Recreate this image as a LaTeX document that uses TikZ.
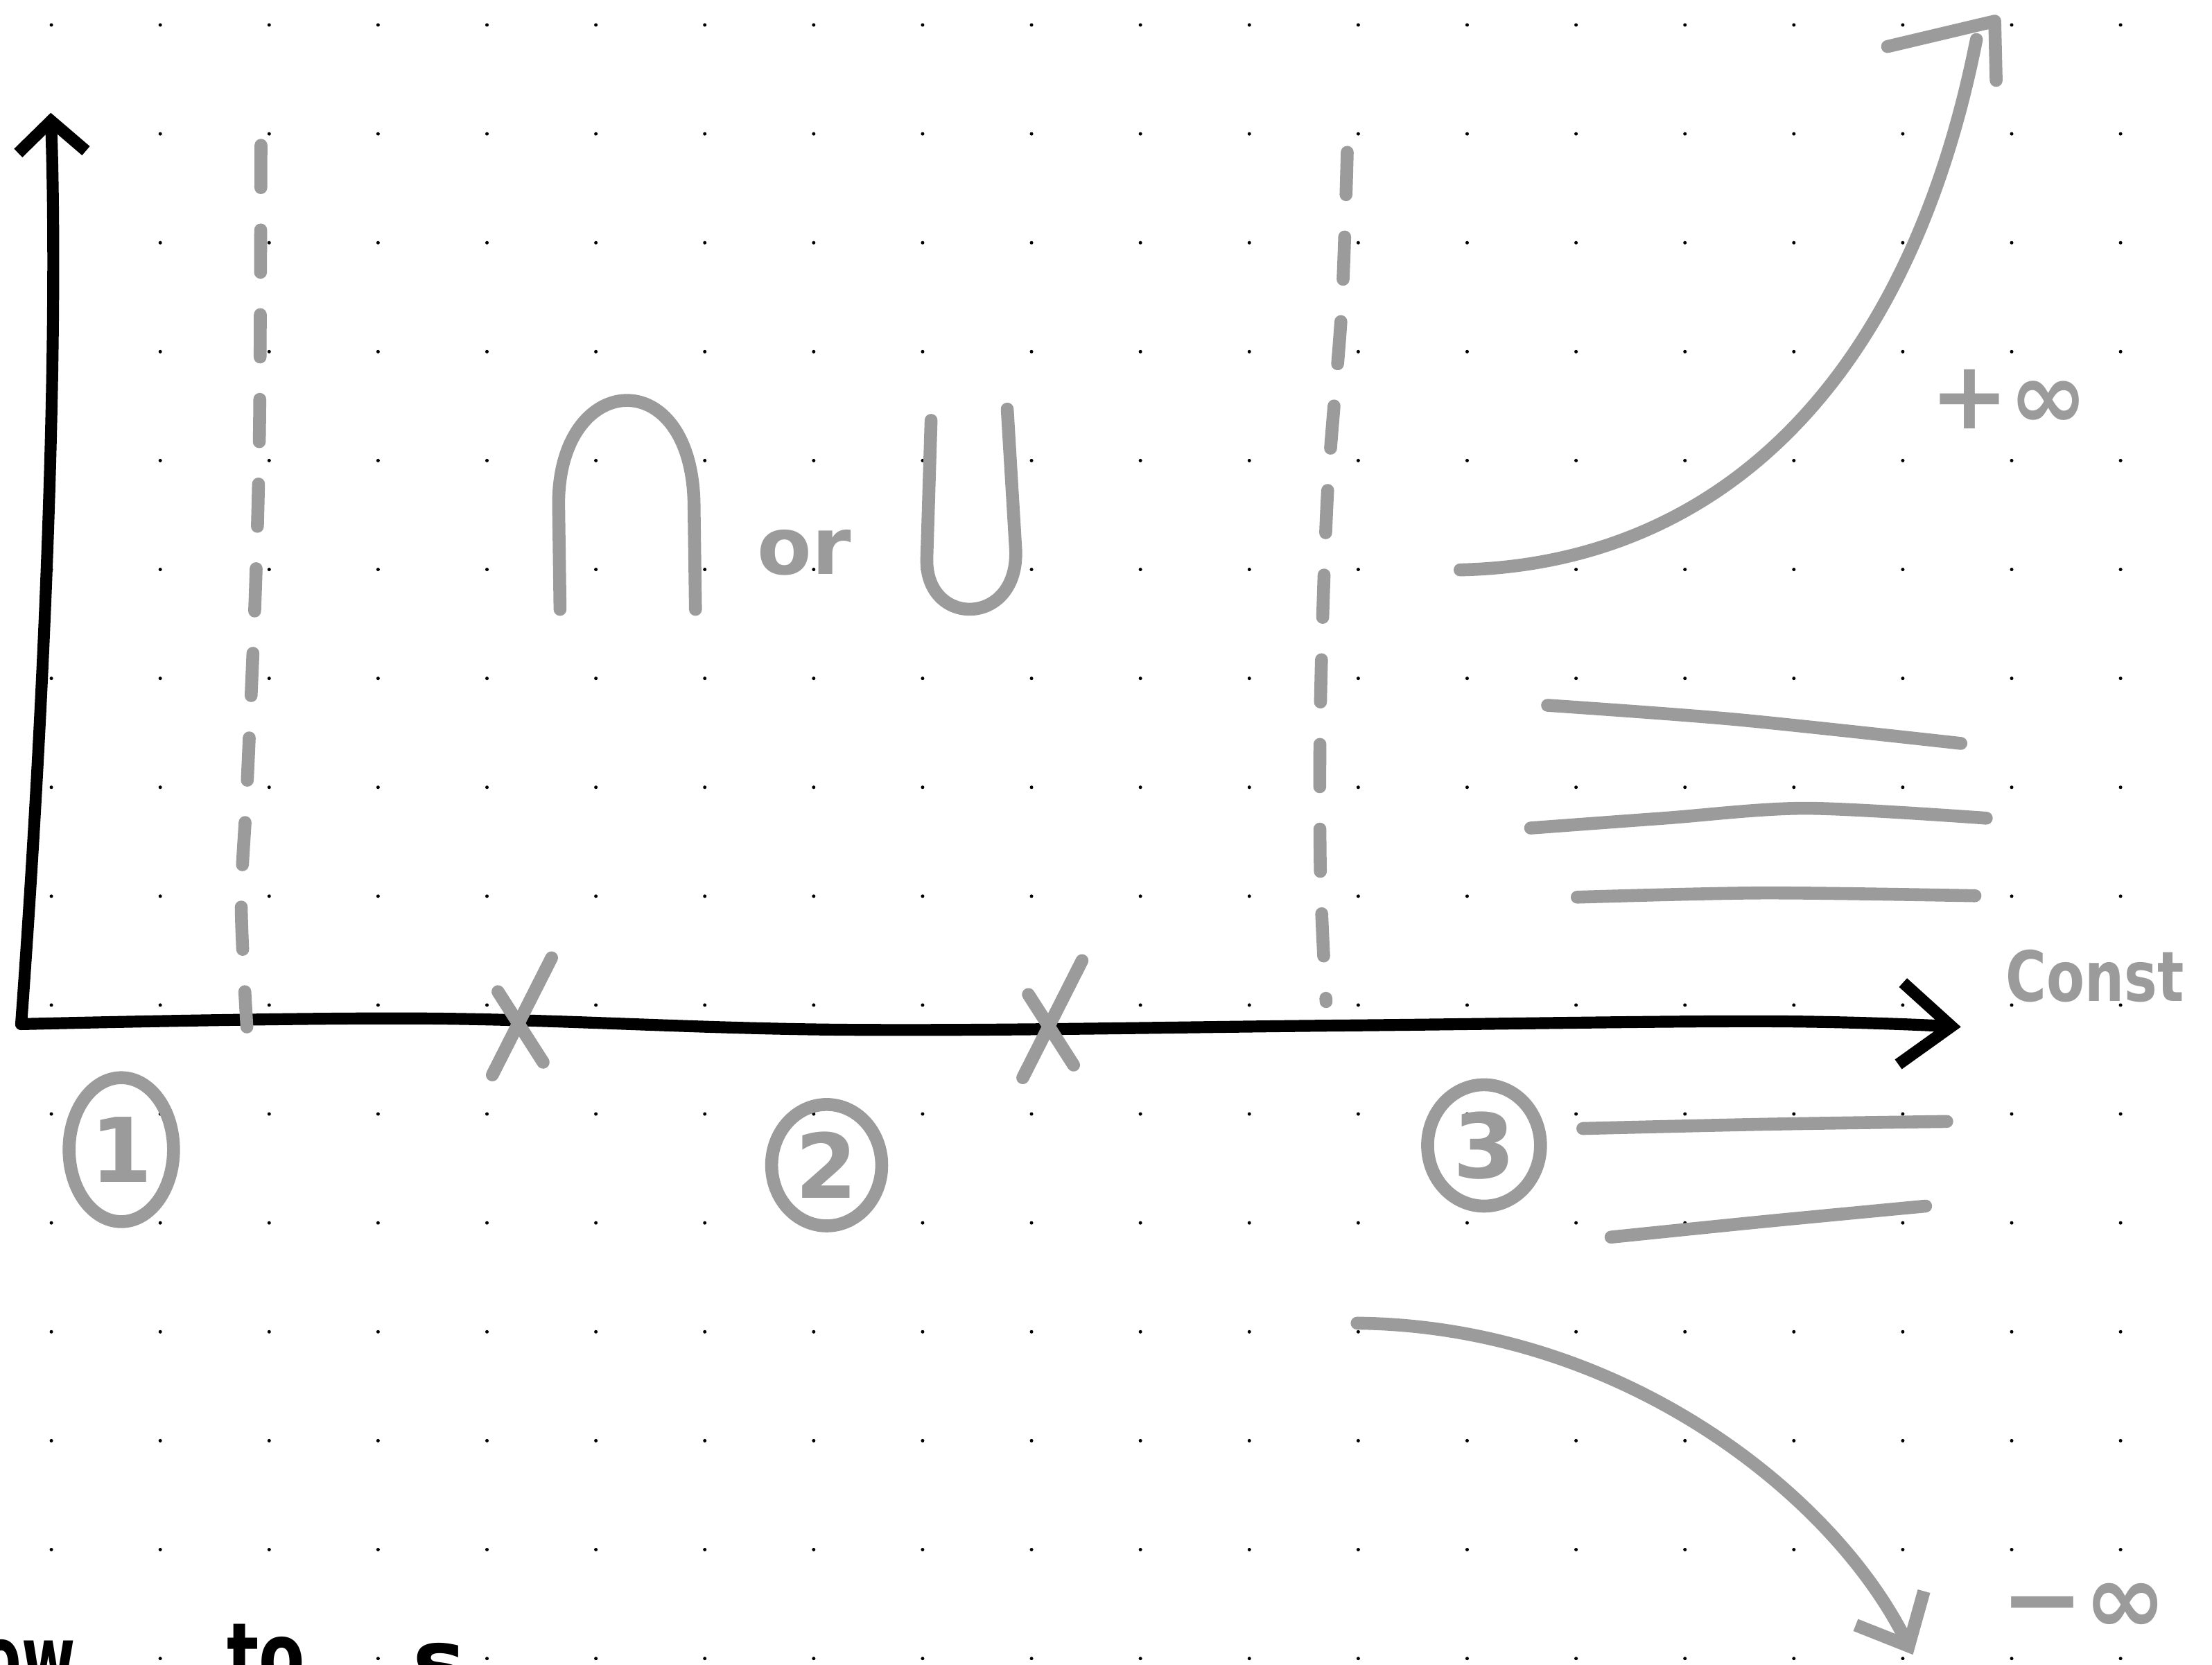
\documentclass[tikz,border=0pt]{standalone}
\usepackage{fontspec}
\setmainfont{DejaVu Sans}
\usetikzlibrary{arrows.meta,shapes.geometric}
\definecolor{inkgray}{RGB}{155,155,155}

\begin{document}
\begin{tikzpicture}[x=0.01cm, y=-0.01cm,
  axis/.style={black, line width=2.4pt, line cap=round, line join=round},
  sketch/.style={inkgray, line width=2.6pt, line cap=round, line join=round},
  guide/.style={sketch, dash pattern=on 3mm off 3mm},
  ring/.style={ellipse, draw=inkgray, line width=2.6pt, inner sep=0pt, text=inkgray,
    font=\fontsize{18}{18}\selectfont\bfseries},
  lbl/.style={text=inkgray, inner sep=0pt},
  hand/.style={black, inner sep=0pt, anchor=base west, font=\fontsize{18}{18}\selectfont\bfseries}]
\useasboundingbox (0,0) rectangle (1568,1180);
\fill[white] (0,0) rectangle (1568,1180);
\clip (0,0) rectangle (1568,1180);
% dot grid
\foreach \i in {0,...,19}
  \foreach \j in {0,...,15}
    \fill (36.4+77.2*\i, 17.7+77.2*\j) circle[radius=0.35pt];
% axes
\coordinate (orig) at (15,726);
\coordinate (ytop) at (36,80);
\coordinate (xend) at (1390,728);
\draw[axis, -{Straight Barb[length=2.2mm, width=4.8mm]}] (orig) .. controls (30,520) and (42,260) .. (ytop);
\draw[axis, -{Straight Barb[length=3.6mm, width=5.8mm]}]
  plot[smooth, tension=0.6] coordinates {(orig) (300,722) (600,730) (950,727) (1250,724) (xend)};
% dashed guides
\draw[guide] plot[smooth] coordinates {(185,103) (184,300) (181,420) (175,560) (171,640) (175,728)};
\draw[guide] plot[smooth] coordinates {(955,108) (951,220) (941,350) (936,500) (936,620) (940,710)};
% roots on the axis
\foreach \cx/\cy in {370/722, 746/724} {
  \draw[sketch] (\cx+21,\cy-43) -- (\cx-21,\cy+40);
  \draw[sketch] (\cx-17,\cy-19) -- (\cx+15,\cy+31);
}
% numbered regions
\node[ring, minimum width=7.4mm, minimum height=10.2mm] (n1) at (86,815) {1};
\node[ring, minimum width=7.8mm, minimum height=8.6mm] (n2) at (586,826) {2};
\node[ring, minimum width=8mm, minimum height=8.6mm] (n3) at (1052,812) {3};
% cap or cup
\draw[sketch] (397,432) -- (396,360) .. controls (394,262) and (492,255) .. (492,360) -- (493,432);
\node[lbl, font=\fontsize{16}{16}\selectfont\bfseries] (orword) at (570,392) {or};
\draw[sketch] (660,298) -- (657,395) .. controls (655,445) and (722,445) .. (720,390) -- (714,290);
% tail to +infinity
\coordinate (upstart) at (1035,404);
\coordinate (upend) at (1401,28);
\coordinate (uptip) at (1414,15);
\draw[sketch] (upstart) .. controls (1215,400) and (1352,275) .. (upend);
\draw[sketch] (1338,33) -- (uptip) -- (1415,57);
\node[lbl, font=\fontsize{19}{19}\selectfont\bfseries] (plusinf) at (1424,283) {+∞};
% constant tails
\draw[sketch] plot[smooth] coordinates {(1097,500) (1230,510) (1390,527)};
\draw[sketch] plot[smooth] coordinates {(1085,587) (1180,580) (1280,573) (1408,580)};
\draw[sketch] plot[smooth] coordinates {(1118,636) (1250,633) (1400,635)};
\draw[sketch] plot[smooth] coordinates {(1122,800) (1250,797) (1380,795)};
\draw[sketch] plot[smooth] coordinates {(1142,877) (1250,866) (1365,855)};
\node[lbl, font=\fontsize{14}{14}\selectfont\bfseries] (const) at (1485,692) {\scalebox{0.8}[1]{Const}};
% tail to -infinity
\coordinate (downstart) at (962,938);
\coordinate (downtip) at (1356,1173);
\draw[sketch, -{Straight Barb[length=3mm, width=5.4mm]}] (downstart) .. controls (1150,940) and (1300,1060) .. (downtip);
\node[lbl, font=\fontsize{20}{20}\selectfont\bfseries] (minusinf) at (1477,1140) {−∞};
% cut-off handwriting at the bottom edge
\node[hand, anchor=base east] (hw1) at (54,1198) {\scalebox{0.65}[1]{ow}};
\node[hand] (hw2) at (160,1196) {\scalebox{0.75}[1]{to}};
\node[hand] (hw3) at (292,1200) {s};
\end{tikzpicture}
\end{document}
